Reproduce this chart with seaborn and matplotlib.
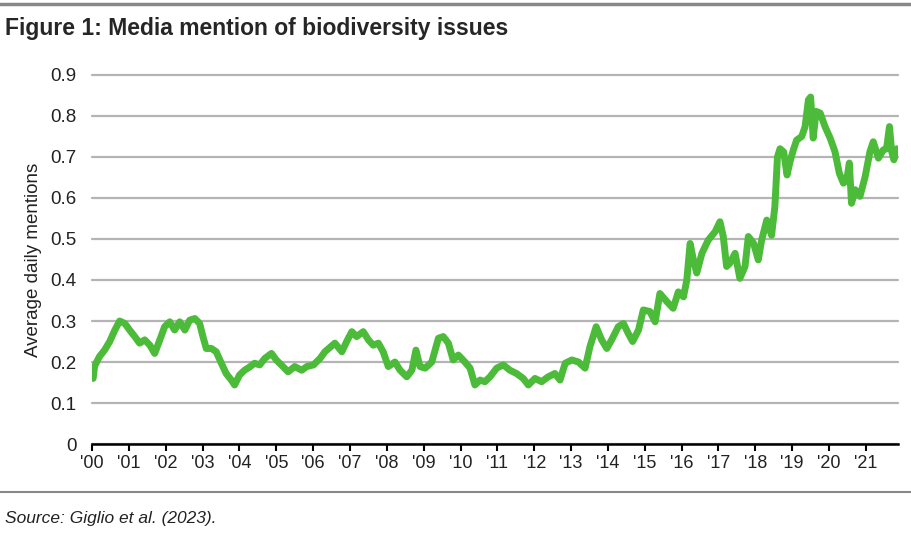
import matplotlib as mpl
mpl.use('Agg')
import matplotlib.pyplot as plt
import seaborn as sns
import pandas as pd

# values (decimal year, average daily mentions)
years = [2000.03, 2000.07, 2000.20, 2000.34, 2000.48, 2000.62, 2000.75, 2000.89,
         2001.02, 2001.16, 2001.29, 2001.43, 2001.57, 2001.70, 2001.84, 2001.97,
         2002.11, 2002.24, 2002.38, 2002.52, 2002.65, 2002.79, 2002.92,
         2003.01, 2003.10, 2003.24, 2003.37, 2003.51, 2003.64, 2003.78, 2003.87,
         2004.00, 2004.14, 2004.28, 2004.41, 2004.55, 2004.69, 2004.87,
         2005.00, 2005.18, 2005.32, 2005.50, 2005.69, 2005.83,
         2006.01, 2006.19, 2006.32, 2006.46, 2006.59, 2006.78, 2006.91,
         2007.05, 2007.18, 2007.36, 2007.50, 2007.63, 2007.77, 2007.90,
         2008.04, 2008.22, 2008.36, 2008.54, 2008.68, 2008.79, 2008.90,
         2009.04, 2009.22, 2009.40, 2009.53, 2009.67, 2009.80, 2009.94,
         2010.12, 2010.26, 2010.39, 2010.53, 2010.66, 2010.80, 2010.98,
         2011.16, 2011.34, 2011.52, 2011.70, 2011.84,
         2012.02, 2012.20, 2012.38, 2012.56, 2012.70, 2012.84,
         2013.02, 2013.20, 2013.38, 2013.51, 2013.68, 2013.83, 2013.97,
         2014.10, 2014.28, 2014.42, 2014.55, 2014.67, 2014.83, 2014.96,
         2015.14, 2015.28, 2015.41, 2015.60, 2015.77, 2015.91,
         2016.05, 2016.14, 2016.23, 2016.32, 2016.41, 2016.55, 2016.72, 2016.91,
         2017.04, 2017.13, 2017.22, 2017.31, 2017.45, 2017.58, 2017.72, 2017.81, 2017.95,
         2018.08, 2018.17, 2018.31, 2018.44, 2018.53, 2018.60, 2018.67, 2018.77, 2018.86, 2018.94,
         2019.03, 2019.12, 2019.26, 2019.35, 2019.44, 2019.50, 2019.57, 2019.65, 2019.76, 2019.89,
         2020.03, 2020.16, 2020.28, 2020.39, 2020.48, 2020.55, 2020.61, 2020.71, 2020.84, 2020.98,
         2021.11, 2021.20, 2021.34, 2021.47, 2021.56, 2021.64, 2021.70, 2021.76, 2021.84]
mentions = [0.160, 0.190, 0.213, 0.229, 0.250, 0.278, 0.300, 0.294,
            0.278, 0.262, 0.246, 0.254, 0.241, 0.221, 0.254, 0.286,
            0.298, 0.278, 0.298, 0.278, 0.302, 0.306, 0.294,
            0.262, 0.233, 0.233, 0.225, 0.197, 0.172, 0.156, 0.144,
            0.168, 0.180, 0.188, 0.197, 0.193, 0.209, 0.221,
            0.205, 0.189, 0.176, 0.189, 0.180, 0.189,
            0.193, 0.209, 0.225, 0.236, 0.246, 0.225, 0.250,
            0.274, 0.262, 0.274, 0.254, 0.241, 0.246, 0.225,
            0.189, 0.200, 0.180, 0.164, 0.180, 0.229, 0.189,
            0.185, 0.200, 0.258, 0.262, 0.246, 0.205, 0.217,
            0.200, 0.185, 0.144, 0.156, 0.152, 0.164, 0.185,
            0.193, 0.180, 0.172, 0.160, 0.144,
            0.160, 0.152, 0.164, 0.172, 0.156, 0.197,
            0.205, 0.200, 0.185, 0.237, 0.286, 0.254, 0.233,
            0.254, 0.286, 0.294, 0.270, 0.250, 0.278, 0.327,
            0.323, 0.298, 0.367, 0.347, 0.331, 0.371,
            0.359, 0.400, 0.489, 0.449, 0.417, 0.465, 0.497, 0.518,
            0.542, 0.506, 0.433, 0.441, 0.465, 0.404, 0.433, 0.506, 0.490,
            0.449, 0.497, 0.546, 0.509, 0.579, 0.700, 0.720, 0.712, 0.656, 0.688,
            0.717, 0.741, 0.750, 0.774, 0.839, 0.846, 0.746, 0.811, 0.807, 0.774,
            0.746, 0.713, 0.660, 0.636, 0.644, 0.685, 0.587, 0.620, 0.604, 0.652,
            0.713, 0.737, 0.697, 0.717, 0.720, 0.774, 0.713, 0.693, 0.720]

tick_years = list(range(2000, 2022))
tick_labels = ["'%02d" % (y - 2000) for y in tick_years]
y_ticks = [0, 0.1, 0.2, 0.3, 0.4, 0.5, 0.6, 0.7, 0.8, 0.9]
y_labels = ['0', '0.1', '0.2', '0.3', '0.4', '0.5', '0.6', '0.7', '0.8', '0.9']

sns.set_style('white')
plt.rcParams['font.family'] = ['Liberation Sans', 'DejaVu Sans']

df = pd.DataFrame({'year': years, 'mentions': mentions})

fig = plt.figure(figsize=(9.12, 5.35), dpi=100)
ax = fig.add_axes([0.1009, 0.170, 0.8837, 0.690])
sns.lineplot(data=df, x='year', y='mentions', ax=ax, color='#4cbb3a', linewidth=5,
             zorder=3, solid_joinstyle='round', solid_capstyle='round')

ax.set_xlim(2000, 2021.87)
ax.set_ylim(0, 0.9)
ax.set_yticks(y_ticks)
ax.set_yticklabels(y_labels, fontsize=13.5, color='#222222')
ax.set_xticks(tick_years)
ax.set_xticklabels(tick_labels, fontsize=13, color='#222222')
ax.grid(axis='y', color='#b4b4b4', linewidth=1.6, clip_on=False)
ax.grid(axis='x', visible=False)
for s in ['top', 'right', 'left']:
    ax.spines[s].set_visible(False)
ax.spines['bottom'].set_linewidth(1.8)
ax.spines['bottom'].set_color('black')
ax.spines['bottom'].set_zorder(4)
ax.tick_params(axis='x', direction='out', length=5, width=1.5, color='black', pad=3, bottom=True)
ax.tick_params(axis='y', length=0, pad=11)
ax.set_xlabel('')
ax.set_ylabel('Average daily mentions', fontsize=13.5, color='#222222', labelpad=6)

# rules and header/footer text
fig.add_artist(plt.Line2D([0, 1], [0.992, 0.992], color='#888888', linewidth=2.5))
fig.add_artist(plt.Line2D([0, 1], [0.080, 0.080], color='#888888', linewidth=1.5))
fig.text(0.006, 0.946, 'Figure 1: Media mention of biodiversity issues', fontsize=16.5,
         fontweight='bold', va='center', ha='left')
fig.text(0.006, 0.031, 'Source: Giglio et al. (2023).', fontsize=12.5, style='italic',
         va='center', ha='left', color='#222222')

fig.savefig('out.png', dpi=100)
